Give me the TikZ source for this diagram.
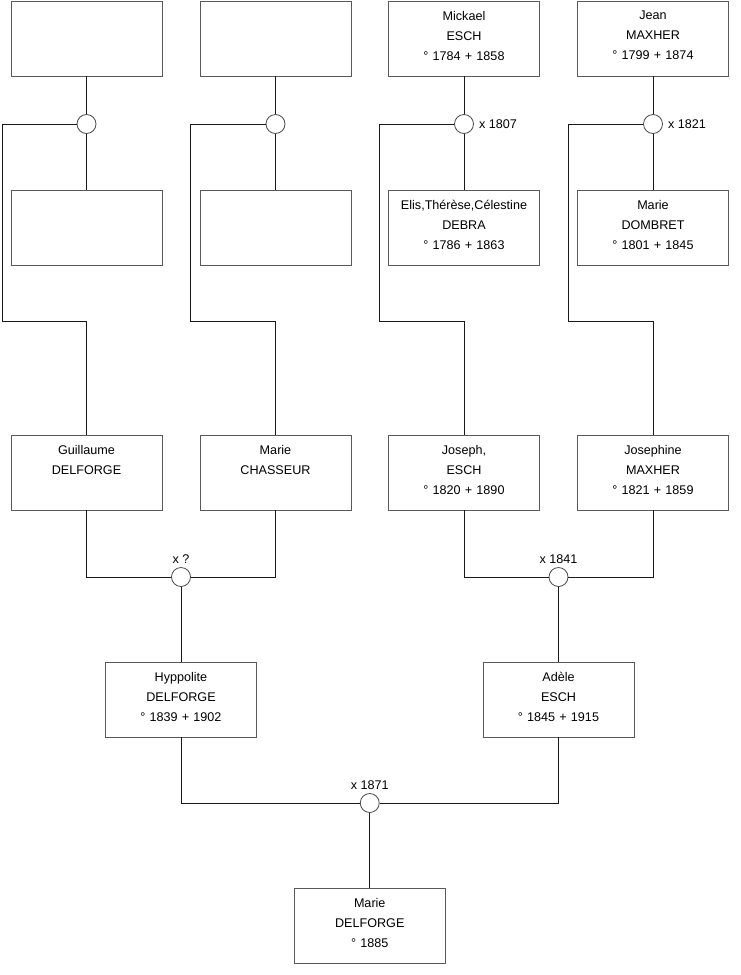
\documentclass[tikz,border=0pt]{standalone}
\usepackage{fontspec}
\setmainfont{Liberation Sans}
\usetikzlibrary{positioning}
\tikzset{
  pers/.style={draw=black!65, fill=white, line width=0.8pt, minimum width=151pt,
               minimum height=75pt, text width=150pt, align=center, inner sep=0pt,
               font=\fontsize{12.6}{20}\selectfont,
               execute at end node={\par\vspace*{6pt}}},
  wed/.style={circle, draw=black!70, fill=white, line width=0.8pt, minimum size=19pt, inner sep=0pt},
  wlab/.style={font=\fontsize{12.6}{14}\selectfont, inner sep=1pt},
  lnk/.style={black!90, line width=0.8pt},
}

\begin{document}
\begin{tikzpicture}[x=1pt, y=-1pt]
  \useasboundingbox (0,0) rectangle (740,975);
  % great-grandparents
  \node[pers] (a1) at (86.5,38.5) {};
  \node[pers] (a2) at (275.5,38.5) {};
  \node[pers] (a3) at (464,38.5) {Mickael\\ESCH\\° 1784 + 1858};
  \node[pers] (a4) at (653,38.5) {Jean\\MAXHER\\° 1799 + 1874};
  \node[pers] (b1) at (86.5,227.5) {};
  \node[pers] (b2) at (275.5,227.5) {};
  \node[pers] (b3) at (464,227.5) {Elis,Thérèse,Célestine\\DEBRA\\° 1786 + 1863};
  \node[pers] (b4) at (653,227.5) {Marie\\DOMBRET\\° 1801 + 1845};
  \node[wed] (m1) at (86.5,124) {};
  \node[wed] (m2) at (275.5,124) {};
  \node[wed, label={[wlab, label distance=4pt]right:x 1807}] (m3) at (464,124) {};
  \node[wed, label={[wlab, label distance=4pt]right:x 1821}] (m4) at (653,124) {};
  % grandparents
  \node[pers] (g1) at (86.5,472.5) {Guillaume\\DELFORGE\\\mbox{}};
  \node[pers] (g2) at (275.5,472.5) {Marie\\CHASSEUR\\\mbox{}};
  \node[pers] (g3) at (464,472.5) {Joseph,\\ESCH\\° 1820 + 1890};
  \node[pers] (g4) at (653,472.5) {Josephine\\MAXHER\\° 1821 + 1859};
  \node[wed, label={[wlab, label distance=2pt]above:x ?}] (m5) at (181,577) {};
  \node[wed, label={[wlab, label distance=2pt]above:x 1841}] (m6) at (558.5,577) {};
  % parents
  \node[pers] (p1) at (181,699.5) {Hyppolite\\DELFORGE\\° 1839 + 1902};
  \node[pers] (p2) at (558.5,699.5) {Adèle\\ESCH\\° 1845 + 1915};
  \node[wed, label={[wlab, label distance=2pt]above:x 1871}] (m7) at (369.75,803) {};
  \node[pers] (c1) at (369.75,926) {Marie\\DELFORGE\\° 1885};
  % branch corners
  \coordinate (k1) at (2,321.5);
  \coordinate (k2) at (190.5,321.5);
  \coordinate (k3) at (379,321.5);
  \coordinate (k4) at (568.5,321.5);
  \foreach \i in {1,...,4} {
    \draw[lnk] (a\i.south) -- (m\i.north);
    \draw[lnk] (m\i.south) -- (b\i.north);
    \draw[lnk] (m\i.west) -| (k\i) -| (g\i.north);
  }
  \draw[lnk] (g1.south) |- (m5.west);
  \draw[lnk] (g2.south) |- (m5.east);
  \draw[lnk] (m5.south) -- (p1.north);
  \draw[lnk] (g3.south) |- (m6.west);
  \draw[lnk] (g4.south) |- (m6.east);
  \draw[lnk] (m6.south) -- (p2.north);
  \draw[lnk] (p1.south) |- (m7.west);
  \draw[lnk] (p2.south) |- (m7.east);
  \draw[lnk] (m7.south) -- (c1.north);
\end{tikzpicture}
\end{document}
